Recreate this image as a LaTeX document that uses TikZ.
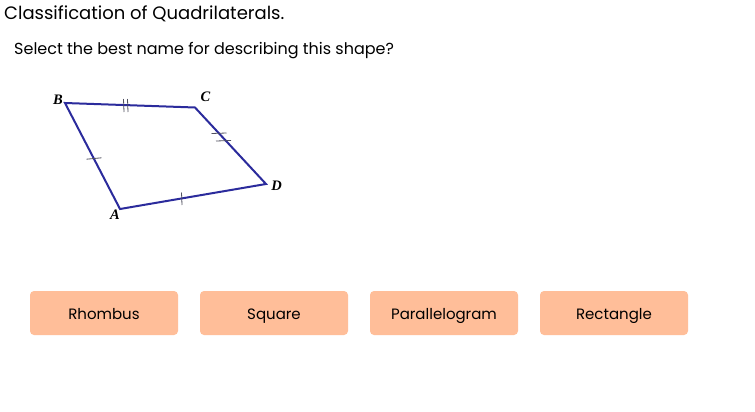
\documentclass[tikz,border=0pt]{standalone}
\usepackage{fontspec}
\setmainfont{Poppins}
\newfontfamily\seriffont{Liberation Serif}
\definecolor{quad}{HTML}{2B2B9C}
\definecolor{btn}{HTML}{FFBE99}
\definecolor{tick}{HTML}{505060}
\tikzset{
  btnbox/.style={fill=btn, rounded corners=4pt, minimum width=148pt, minimum height=44pt, inner sep=0pt, font=\fontsize{15}{17}\selectfont, text=black, text height=13.5pt, text depth=0pt},
  vlabel/.style={font=\seriffont\bfseries\itshape\fontsize{14.5}{16}\selectfont, inner sep=0pt},
  tickmark/.style={draw=tick, line width=0.8pt},
}
\begin{document}
\begin{tikzpicture}[x=1pt,y=-1pt]
\useasboundingbox[fill=white] (0,0) rectangle (755,412);
\node[anchor=base west, inner sep=0pt, font=\fontsize{18}{20}\selectfont] (title) at (4,19.5) {Classification of Quadrilaterals.};
\node[anchor=base west, inner sep=0pt, font=\fontsize{16}{18}\selectfont] (question) at (14,55) {Select the best name for describing this shape?};
% quadrilateral
\coordinate (B) at (65,103);
\coordinate (C) at (195,107.5);
\coordinate (D) at (266,184);
\coordinate (A) at (120,209);
\draw[quad, line width=2pt, line join=miter] (A) -- (B) -- (C) -- (D) -- cycle;
\node[vlabel] (lB) at (58,100) {B};
\node[vlabel] (lC) at (205.5,97) {C};
\node[vlabel] (lD) at (276.5,186) {D};
\node[vlabel] (lA) at (115,215) {A};
% tick marks
\draw[tickmark] (86.5,159.2) -- (101.5,157.8);
\draw[tickmark] (181.5,192.5) -- (182,205);
\draw[tickmark] (123.5,99) -- (124,112);
\draw[tickmark] (127.5,99) -- (128,112);
\draw[tickmark] (211.5,133.5) -- (226.5,133);
\draw[tickmark] (216,141) -- (231,140.5);
% buttons
\node[btnbox] (b1) at (104,313) {Rhombus};
\node[btnbox] (b2) at (274,313) {Square};
\node[btnbox] (b3) at (444,313) {Parallelogram};
\node[btnbox] (b4) at (614,313) {Rectangle};
\end{tikzpicture}
\end{document}
